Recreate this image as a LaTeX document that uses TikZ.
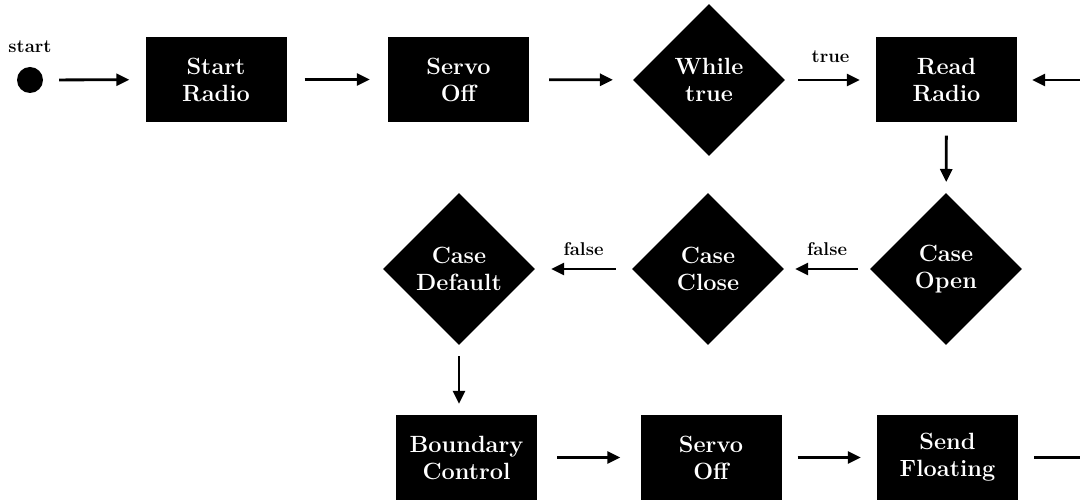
\documentclass[tikz,border=0pt]{standalone}
\usetikzlibrary{arrows.meta,shapes.geometric}
\begin{document}
\begin{tikzpicture}[x=1pt,y=-1pt,
  stepbox/.style={rectangle,fill=black,text=white,align=center,
    minimum width=141pt,minimum height=85pt,inner sep=0pt,
    font=\fontsize{23.5}{27}\selectfont\bfseries},
  decision/.style={diamond,aspect=1,fill=black,text=white,align=center,
    minimum size=152pt,inner sep=0pt,
    font=\fontsize{23.5}{27}\selectfont\bfseries},
  lbl/.style={font=\fontsize{18.5}{20}\selectfont\bfseries,inner sep=0pt},
  startdot/.style={circle,fill=black,minimum size=26pt,inner sep=0pt},
  arr/.style={line width=2.8pt,-{Triangle[length=13pt,width=12pt]}},
  hgap/.style={shorten <=16pt,shorten >=16pt},
  vgap/.style={shorten <=13pt,shorten >=11pt}]
\useasboundingbox (0,0) rectangle (1080,502);
\clip (0,0) rectangle (1080,502);

% top row
\node[startdot] (s0) at (30,80) {};
\node[lbl] (slbl) at (30,47) {start};
\node[stepbox] (sr) at (216,79.5) {Start\\Radio};
\node[stepbox] (so1) at (458.5,79.5) {Servo\\Off};
\node[decision] (wt) at (709,80) {While\\true};
\node[stepbox] (rr) at (946.5,80) {Read\\Radio};

% middle row
\node[decision] (co) at (946,269) {Case\\Open};
\node[decision] (cc) at (708,269) {Case\\Close};
\node[decision] (cd) at (459,269) {Case\\Default};

% bottom row
\node[stepbox] (bc) at (466.5,457.5) {Boundary\\Control};
\node[stepbox] (so2) at (711,457.5) {Servo\\Off};
\node[stepbox] (sf) at (947.5,457.5) {Send\\Floating};

\coordinate (loop) at (1110,0);

% connectors
\draw[arr,hgap] (s0) -- (sr);
\draw[arr,hgap,shorten <=18pt,shorten >=18pt] (sr) -- (so1);
\draw[arr,hgap,shorten <=20pt,shorten >=20pt] (so1) -- (wt);
\draw[arr,hgap,shorten <=13pt] (wt) -- node[lbl,yshift=23pt] {true} (rr);
\draw[arr,vgap] (rr) -- (co);
\draw[arr,hgap,shorten <=12pt,shorten >=11pt] (co) -- node[lbl,yshift=20pt] {false} (cc);
\draw[arr,hgap] (cc) -- node[lbl,yshift=20pt] {false} (cd);
\draw[arr,vgap,shorten <=11pt] (cd.south) -- (cd.south |- bc.north);
\draw[arr,hgap,shorten <=20pt,shorten >=20pt] (bc) -- (so2);
\draw[arr,hgap] (so2) -- (sf);
\draw[arr,shorten <=16pt,shorten >=15pt]
  (sf.east) -- (sf.east -| loop) -- (rr.east -| loop) -- (rr.east);
\end{tikzpicture}
\end{document}
